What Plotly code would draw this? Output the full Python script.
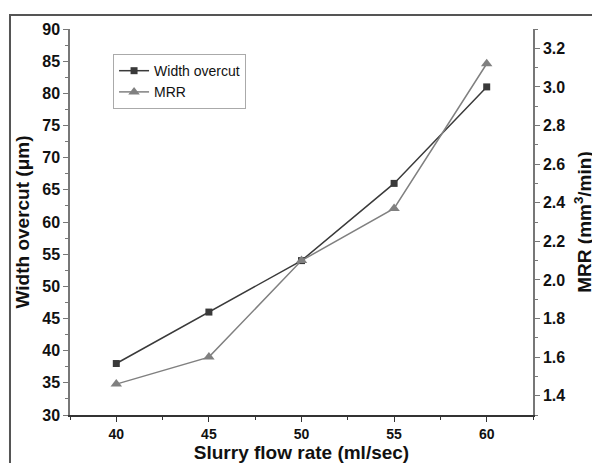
import plotly.graph_objects as go

flow_rate = [40, 45, 50, 55, 60]
width_overcut = [38, 46, 54, 66, 81]
mrr = [1.46, 1.60, 2.10, 2.37, 3.12]

left_ticks = list(range(30, 95, 5))
right_ticks = [1.4, 1.6, 1.8, 2.0, 2.2, 2.4, 2.6, 2.8, 3.0, 3.2]

fig = go.Figure()

fig.add_trace(go.Scatter(x=flow_rate, y=width_overcut, name="Width overcut",
                         mode="lines+markers",
                         line=dict(color="#3a3a3a", width=1.5),
                         marker=dict(symbol="square", size=7, color="#3a3a3a")))
fig.add_trace(go.Scatter(x=flow_rate, y=mrr, name="MRR", yaxis="y2",
                         mode="lines+markers",
                         line=dict(color="#808080", width=1.5),
                         marker=dict(symbol="triangle-up", size=10, color="#808080")))

tickfont = dict(family="Liberation Sans", size=16, color="#111")
titlefont = dict(family="Liberation Sans", size=19, color="#111")

# page body has an 8px margin, so offset the plot area to land where the reference has it
fig.update_layout(
    width=600, height=463,
    margin=dict(l=62, r=75, t=21, b=56),
    plot_bgcolor="white", paper_bgcolor="white",
    font=dict(family="Liberation Sans"),
    xaxis=dict(range=[37.5, 62.5], tickvals=flow_rate,
               ticktext=["<b>%d</b>" % v for v in flow_rate],
               ticks="outside", ticklen=5, tickcolor="#333",
               minor=dict(dtick=2.5, ticks="outside", ticklen=3, tickcolor="#333"),
               showline=True, linecolor="#333", linewidth=1.5,
               showgrid=False, zeroline=False, automargin=False,
               tickfont=dict(family="Liberation Sans", size=14, color="#111"),
               title=dict(text="<b>Slurry flow rate (ml/sec)</b>", font=titlefont, standoff=4)),
    xaxis2=dict(range=[37.5, 62.5], overlaying="x", side="top", anchor="y",
                tickvals=flow_rate, showticklabels=False,
                ticks="inside", ticklen=5, tickcolor="#333",
                minor=dict(dtick=2.5, ticks="inside", ticklen=3, tickcolor="#333"),
                showline=True, linecolor="#333", linewidth=1.5,
                showgrid=False, zeroline=False, automargin=False),
    yaxis=dict(range=[30, 90], tickvals=left_ticks,
               ticktext=["<b>%d</b>" % v for v in left_ticks],
               ticks="outside", ticklen=5, tickcolor="#777",
               minor=dict(dtick=2.5, ticks="outside", ticklen=3, tickcolor="#777"),
               showline=True, linecolor="#777", linewidth=1.5,
               showgrid=False, zeroline=False, automargin=False, tickfont=tickfont,
               title=dict(text="<b>Width overcut (μm)</b>", font=titlefont, standoff=8)),
    yaxis2=dict(range=[1.3, 3.3], overlaying="y", side="right",
                tickvals=right_ticks,
                ticktext=["<b>%.1f</b>" % v for v in right_ticks],
                ticks="outside", ticklen=5, tickcolor="#777",
                minor=dict(dtick=0.1, ticks="outside", ticklen=3, tickcolor="#777"),
                showline=True, linecolor="#777", linewidth=1.5,
                showgrid=False, zeroline=False, automargin=False, tickfont=tickfont,
                title=dict(text="<b>MRR (mm<sup>3</sup>/min)</b>", font=titlefont, standoff=13)),
    legend=dict(x=0.093, y=0.935, xanchor="left", yanchor="top",
                bgcolor="white", bordercolor="#aaa", borderwidth=1,
                font=dict(family="Liberation Sans", size=14, color="#111"),
                tracegroupgap=0, itemwidth=30),
    showlegend=True,
)

fig.add_shape(type="rect", xref="paper", yref="paper",
              x0=-0.1296, y0=-0.3, x1=1.3, y1=1.036,
              line=dict(color="#555", width=2), fillcolor="rgba(0,0,0,0)", layer="below")

fig.write_html("out.html")
